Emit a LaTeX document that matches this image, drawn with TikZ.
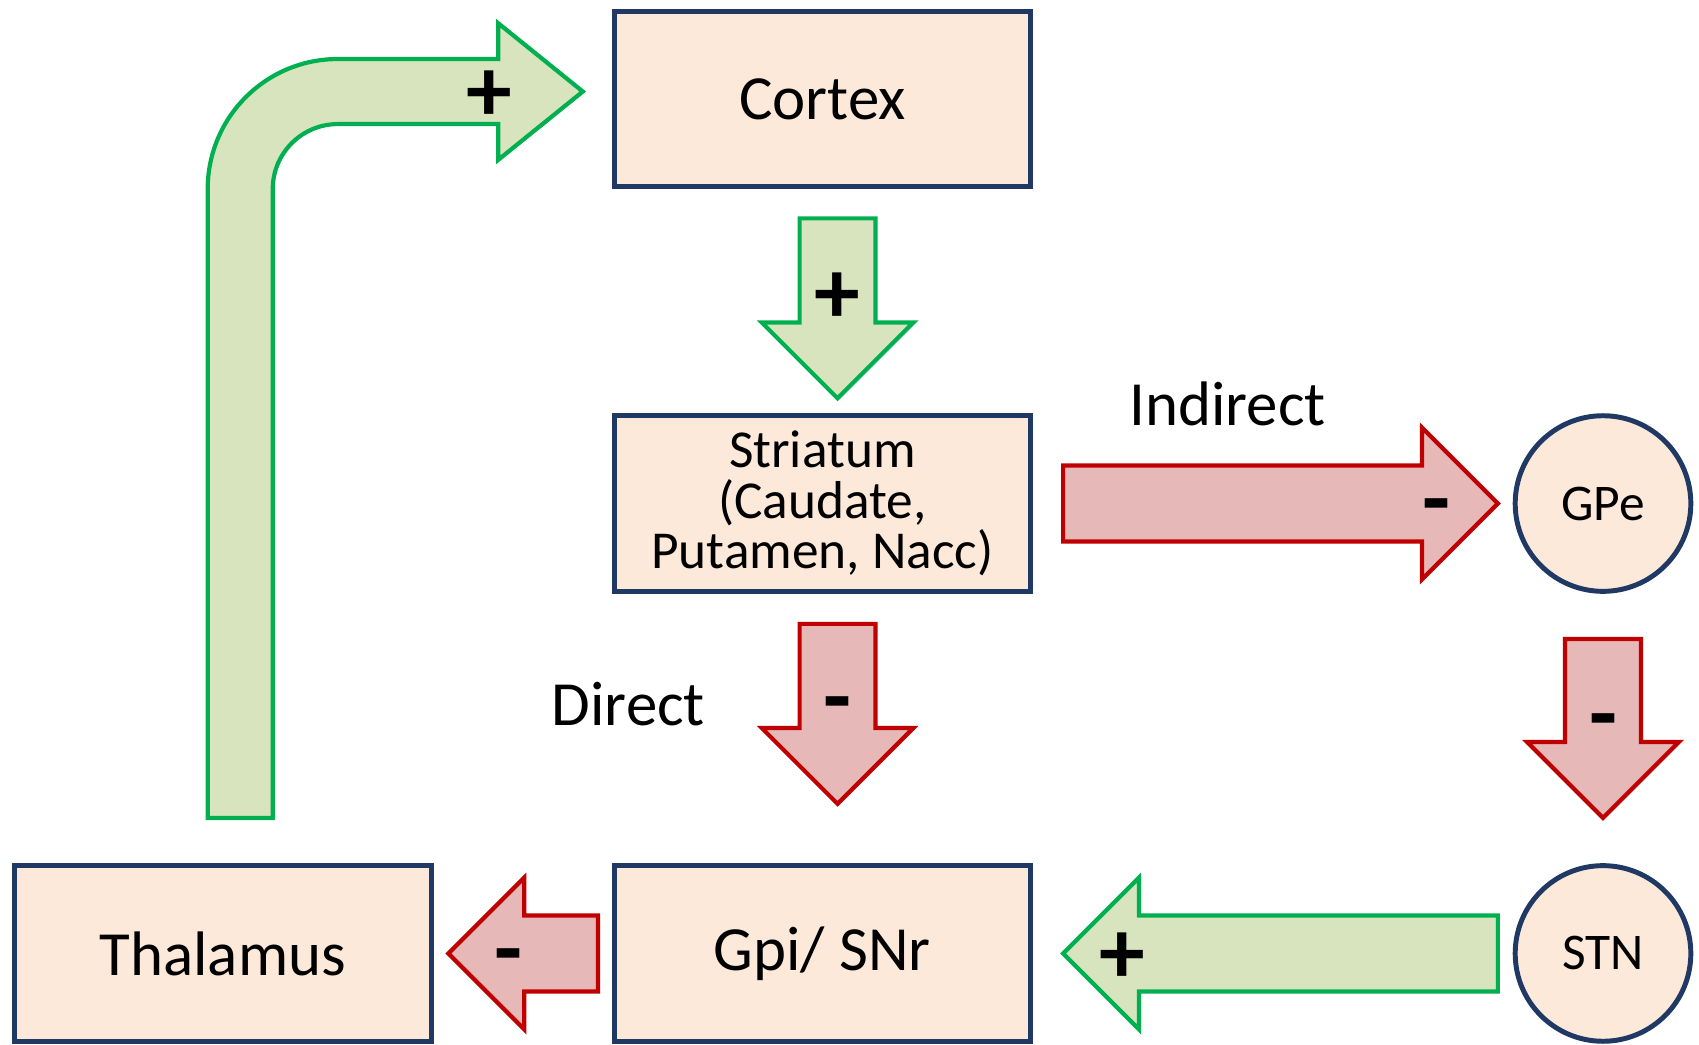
\documentclass[tikz,border=0pt]{standalone}
\usepackage{tikz}
\usetikzlibrary{calc}
\usetikzlibrary{backgrounds,positioning}
\usepackage{xcolor}
\usepackage{fontspec}
\setmainfont{Carlito}
\definecolor{peach}{HTML}{FCE9DA}
\definecolor{navy}{HTML}{1F3864}
\definecolor{leaf}{HTML}{D7E4BD}
\definecolor{leafline}{HTML}{00B050}
\definecolor{rose}{HTML}{E6B9B8}
\definecolor{roseline}{HTML}{C00000}

\begin{document}
\begin{tikzpicture}
		[x=0.01cm,y=-0.01cm,
		 font=\fontsize{16.5}{19}\selectfont,
		 region/.style={rectangle,draw=navy,fill=peach,line width=1.3pt,outer sep=0pt,minimum width=3.84cm,minimum height=1.62cm,align=center},
		 nucleus/.style={circle,draw=navy,fill=peach,line width=1.3pt,outer sep=0pt,minimum size=1.62cm,font=\fontsize{13.5}{16}\selectfont},
		 sign/.style={font=\fontsize{24}{26}\selectfont\bfseries},
		 block/.style n args={3}{line width=1.1pt,to path={
			($(\tikztotarget)!0.7cm!(\tikztostart)$) coordinate (head)
			($(\tikztostart)!0.35cm!90:(\tikztotarget)$) -- ($(head)!0.35cm!90:(\tikztotarget)$)
			-- ($(head)!0.7cm!90:(\tikztotarget)$) -- (\tikztotarget)
			-- ($(head)!0.7cm!-90:(\tikztotarget)$) -- ($(head)!0.35cm!-90:(\tikztotarget)$)
			-- ($(\tikztostart)!0.35cm!-90:(\tikztotarget)$) -- cycle
			($(\tikztostart)!#2!(\tikztotarget)$) node[sign,yshift=#3] {#1}}},
		 excites/.style={block={+}{#1}{-0.04cm},draw=leafline,fill=leaf},
		 inhibits/.style={block={-}{#1}{-0.1cm},draw=roseline,fill=rose}]

		\useasboundingbox (0,0) rectangle (1568,964);

		\node[region] (Cortex) at (759,91.5) {Cortex};
		\node[region,font=\fontsize{14}{13.3}\selectfont] (Striatum) [below=2.11cm of Cortex] {Striatum\\(Caudate,\\Putamen, Nacc)};
		\node[region] (GpiSNr) [below=2.53cm of Striatum] {Gpi/ SNr};
		\node[region] (Thalamus) [left=1.69cm of GpiSNr] {Thalamus};
		\node[nucleus] (GPe) [right=4.47cm of Striatum] {GPe};
		\node[nucleus] (STN) [below=2.53cm of GPe] {STN};
		\node (Direct) at (580,650) {Direct};
		\node (Indirect) at (1133,373) {Indirect};

		\draw[excites=.42] ([xshift=0.14cm,yshift=-0.29cm]Cortex.south) to ([xshift=0.14cm,yshift=0.16cm]Striatum.north);
		\draw[inhibits=.43] ([xshift=0.14cm,yshift=-0.30cm]Striatum.south) to ([xshift=0.14cm,yshift=0.57cm]GpiSNr.north);
		\draw[inhibits=.86] ([xshift=0.30cm]Striatum.east) to ([xshift=-0.16cm]GPe.west);
		\draw[inhibits=.44] ([yshift=-0.44cm]GPe.south) to ([yshift=0.44cm]STN.north);
		\draw[excites=.865] ([xshift=-0.16cm]STN.west) to ([xshift=0.30cm]GpiSNr.east);
		\draw[inhibits=.6] ([xshift=-0.15cm]GpiSNr.west) to ([xshift=0.16cm]Thalamus.east);

		\coordinate (Rise) at ([xshift=0.16cm,yshift=0.44cm]Thalamus.north);
		\coordinate (Tip) at ([xshift=-0.29cm,yshift=0.07cm]Cortex.west);
		\draw[line width=1.1pt,draw=leafline,fill=leaf] let \p1=(Rise), \p2=(Tip) in
			(\x1-0.3cm,\y1) -- (\x1-0.3cm,\y2-0.9cm) arc[start angle=180,end angle=90,radius=1.2cm]
			-- (\x2-0.78cm,\y2+0.3cm) -- (\x2-0.78cm,\y2+0.63cm) -- (Tip) -- (\x2-0.78cm,\y2-0.63cm)
			-- (\x2-0.78cm,\y2-0.3cm) -- (\x1+0.9cm,\y2-0.3cm) arc[start angle=90,end angle=180,radius=0.6cm]
			-- (\x1+0.3cm,\y1) -- cycle;
		\node[sign,yshift=-0.04cm] (Loop) at ([xshift=-0.86cm]Tip) {+};
	\end{tikzpicture}
\end{document}
